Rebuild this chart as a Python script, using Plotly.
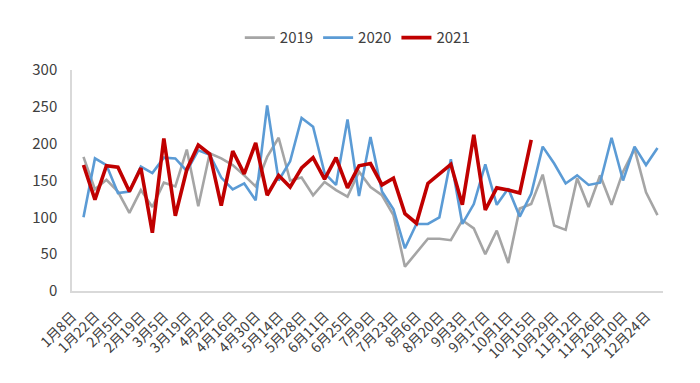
import plotly.graph_objects as go

dates = ["1月8日", "1月15日", "1月22日", "1月29日", "2月5日", "2月12日", "2月19日", "2月26日",
         "3月5日", "3月12日", "3月19日", "3月26日", "4月2日", "4月9日", "4月16日", "4月23日",
         "4月30日", "5月7日", "5月14日", "5月21日", "5月28日", "6月4日", "6月11日", "6月18日",
         "6月25日", "7月2日", "7月9日", "7月16日", "7月23日", "7月30日", "8月6日", "8月13日",
         "8月20日", "8月27日", "9月3日", "9月10日", "9月17日", "9月24日", "10月1日", "10月8日",
         "10月15日", "10月22日", "10月29日", "11月5日", "11月12日", "11月19日", "11月26日",
         "12月3日", "12月10日", "12月17日", "12月24日"]

v2019 = [182, 138, 151, 135, 106, 137, 114, 147, 142, 192, 115, 187, 180, 171, 157, 142,
         182, 208, 150, 154, 130, 148, 137, 128, 162, 141, 130, 103, 33, 52, 71, 71,
         69, 96, 85, 50, 82, 38, 112, 118, 158, 89, 83, 153, 114, 157, 117, 162, 193, 134, 103]

v2020 = [100, 180, 171, 133, 135, 169, 160, 181, 180, 163, 191, 185, 154, 138, 146, 123,
         252, 150, 176, 235, 223, 160, 144, 233, 129, 209, 135, 111, 58, 91, 91, 100,
         179, 91, 118, 172, 117, 139, 101, 132, 196, 173, 146, 157, 144, 147, 208, 150, 196, 171, 194]

v2021 = [171, 124, 170, 168, 135, 167, 79, 207, 102, 165, 198, 186, 116, 190, 159, 201,
         130, 157, 141, 167, 181, 152, 181, 140, 170, 173, 144, 153, 105, 92, 146, 159,
         172, 117, 212, 110, 140, 137, 133, 205]

tick_labels = dates[::2]

FONT = "Noto Sans CJK SC"

fig = go.Figure()
fig.add_trace(go.Scatter(x=dates, y=v2019, mode="lines", name="2019",
                         line=dict(color="#A5A5A5", width=2.6)))
fig.add_trace(go.Scatter(x=dates, y=v2020, mode="lines", name="2020",
                         line=dict(color="#5B9BD5", width=2.6)))
fig.add_trace(go.Scatter(x=dates[:len(v2021)], y=v2021, mode="lines", name="2021",
                         line=dict(color="#C00000", width=3.6)))

fig.update_layout(
    width=700, height=383,
    margin=dict(l=64, r=45, t=62, b=100, autoexpand=False),
    paper_bgcolor="white", plot_bgcolor="white",
    font=dict(family=FONT, size=14, color="#404040"),
    showlegend=True,
    legend=dict(orientation="h", x=0.499, xref="container", xanchor="center",
                y=0.922, yref="container", yanchor="middle",
                font=dict(size=15, color="#404040"), bgcolor="rgba(0,0,0,0)"),
    xaxis=dict(type="category", categoryorder="array", categoryarray=dates,
               range=[-1.0, 50.48], tickmode="array", tickvals=tick_labels,
               ticktext=tick_labels, tickangle=-45, showgrid=False,
               showline=True, linecolor="#D9D9D9", linewidth=1.5, ticks="",
               ticklabelshift=-11, ticklabelstandoff=10,
               tickfont=dict(size=14, color="#404040")),
    yaxis=dict(range=[0, 300], dtick=50, showgrid=False, showline=True,
               linecolor="#D9D9D9", linewidth=1.5, ticks="", zeroline=False,
               ticklabelstandoff=10,
               tickfont=dict(size=15, color="#404040")),
)

fig.write_html("out.html")
